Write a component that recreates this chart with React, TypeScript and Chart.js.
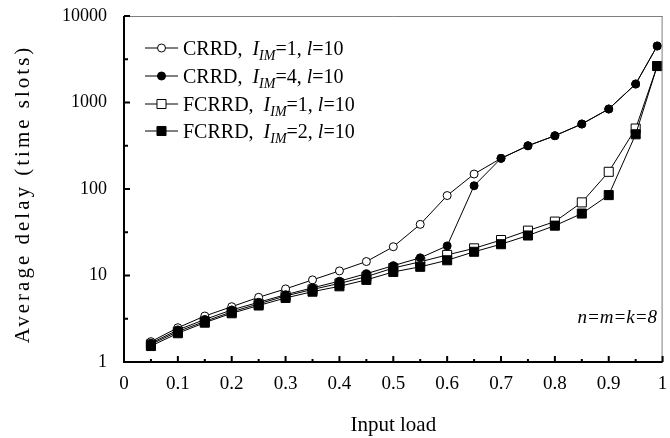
import React, { useEffect, useRef } from 'react';
import { Chart, registerables } from 'chart.js';

Chart.register(...registerables);

const loads = [0.05, 0.1, 0.15, 0.2, 0.25, 0.3, 0.35, 0.4, 0.45, 0.5, 0.55, 0.6, 0.65, 0.7, 0.75, 0.8, 0.85, 0.9, 0.95, 0.99];
const crrdIm1 = [1.72, 2.49, 3.4, 4.36, 5.6, 7.0, 8.9, 11.3, 14.5, 21.5, 39, 84, 149, 226, 316, 413, 564, 841, 1636, 4500];
const crrdIm4 = [1.65, 2.35, 3.1, 4.0, 4.9, 6.0, 7.2, 8.6, 10.5, 13, 16, 22, 109, 226, 316, 413, 564, 841, 1636, 4500];
const fcrrdIm1 = [1.6, 2.25, 2.95, 3.8, 4.7, 5.8, 6.9, 8.1, 9.7, 12.2, 14.4, 17.3, 20.6, 25.7, 33, 42, 70, 158, 500, 2640];
const fcrrdIm2 = [1.53, 2.15, 2.85, 3.66, 4.5, 5.5, 6.5, 7.5, 8.9, 11, 12.6, 15, 18.8, 23, 29, 37.7, 52, 85, 429, 2640];

const seriesNames = ['CRRD,', 'CRRD,', 'FCRRD,', 'FCRRD,'];
const seriesIm = ['1', '4', '1', '2'];
const seriesL = ['10', '10', '10', '10'];
const yTicks = [1, 10, 100, 1000, 10000];
const xTicks = [0, 0.1, 0.2, 0.3, 0.4, 0.5, 0.6, 0.7, 0.8, 0.9, 1];

const xTitle = 'Input load';
const yTitle = 'Average delay (time slots)';
const note = 'n=m=k=8';

const SERIF = '"Liberation Serif", "DejaVu Serif", serif';

const styles = [
  { pointStyle: 'circle', fill: '#fff', radius: 4 },
  { pointStyle: 'circle', fill: '#000', radius: 4 },
  { pointStyle: 'rect', fill: '#fff', radius: 6.4 },
  { pointStyle: 'rect', fill: '#000', radius: 6.4 },
];

function drawMarker(ctx: CanvasRenderingContext2D, idx: number, x: number, y: number) {
  const s = styles[idx];
  ctx.save();
  ctx.lineWidth = 1;
  ctx.strokeStyle = '#000';
  ctx.fillStyle = s.fill;
  ctx.beginPath();
  if (s.pointStyle === 'circle') {
    ctx.arc(x, y, s.radius, 0, Math.PI * 2);
  } else {
    const h = s.radius * Math.SQRT1_2;
    ctx.rect(x - h, y - h, 2 * h, 2 * h);
  }
  ctx.fill();
  ctx.stroke();
  ctx.restore();
}

const decorPlugin = {
  id: 'decor',
  afterDraw(chart: any) {
    const { ctx, chartArea } = chart;
    const { left, right, top, bottom } = chartArea;
    const xs = chart.scales.x;
    const ys = chart.scales.y;
    ctx.save();
    // top & right border (grey, thin)
    ctx.strokeStyle = '#7f7f7f';
    ctx.lineWidth = 1;
    ctx.beginPath();
    ctx.moveTo(left, top + 0.5);
    ctx.lineTo(right, top + 0.5);
    ctx.moveTo(right - 0.5, top);
    ctx.lineTo(right - 0.5, bottom);
    ctx.stroke();
    // left & bottom axis (black, thick)
    ctx.strokeStyle = '#000';
    ctx.lineWidth = 2;
    ctx.beginPath();
    ctx.moveTo(left, top);
    ctx.lineTo(left, bottom);
    ctx.lineTo(right, bottom);
    ctx.stroke();
    // y ticks (inward)
    ctx.beginPath();
    for (let k = 0; k < yTicks.length; k++) {
      const py = ys.getPixelForValue(yTicks[k]);
      ctx.moveTo(left, py);
      ctx.lineTo(left + 6, py);
      if (k < yTicks.length - 1) {
        const pm = ys.getPixelForValue(yTicks[k] * Math.sqrt(10));
        ctx.moveTo(left, pm);
        ctx.lineTo(left + 4, pm);
      }
    }
    // x ticks (inward)
    for (let i = 0; i < xTicks.length; i++) {
      const px = xs.getPixelForValue(xTicks[i]);
      ctx.moveTo(px, bottom);
      ctx.lineTo(px, bottom - 6);
      if (i < xTicks.length - 1) {
        const pm = xs.getPixelForValue((xTicks[i] + xTicks[i + 1]) / 2);
        ctx.moveTo(pm, bottom);
        ctx.lineTo(pm, bottom - 3);
      }
    }
    ctx.stroke();

    // axis titles
    ctx.fillStyle = '#000';
    ctx.font = `21px ${SERIF}`;
    ctx.textAlign = 'center';
    ctx.textBaseline = 'middle';
    ctx.fillText(xTitle, (left + right) / 2, 425);
    ctx.save();
    ctx.translate(23, 194);
    ctx.rotate(-Math.PI / 2);
    (ctx as any).letterSpacing = '3px';
    ctx.fillText(yTitle, 0, 0);
    ctx.restore();

    // note
    ctx.font = `italic 19px ${SERIF}`;
    ctx.textAlign = 'right';
    ctx.fillText(note, 657, 318);

    // legend
    const rowY = [48, 76, 104, 131];
    for (let i = 0; i < 4; i++) {
      const y = rowY[i];
      ctx.strokeStyle = '#000';
      ctx.lineWidth = 1;
      ctx.beginPath();
      ctx.moveTo(145, y);
      ctx.lineTo(178, y);
      ctx.stroke();
      drawMarker(ctx, i, 161.5, y);
      let x = 183;
      ctx.textAlign = 'left';
      ctx.textBaseline = 'middle';
      const parts: [string, string, number][] = [
        [seriesNames[i] + '  ', `20px ${SERIF}`, 0],
        ['I', `italic 20px ${SERIF}`, 0],
        ['IM', `italic 14px ${SERIF}`, 6],
        ['=' + seriesIm[i] + ', ', `20px ${SERIF}`, 0],
        ['l', `italic 20px ${SERIF}`, 0],
        ['=' + seriesL[i], `20px ${SERIF}`, 0],
      ];
      for (const [t, f, dy] of parts) {
        ctx.font = f;
        ctx.fillText(t, x, y + 2 + dy);
        x += ctx.measureText(t).width;
      }
    }
    ctx.restore();
  },
};

export default function App() {
  const ref = useRef<HTMLCanvasElement | null>(null);
  useEffect(() => {
    if (!ref.current) return;
    const all = [crrdIm1, crrdIm4, fcrrdIm1, fcrrdIm2];
    const datasets = all.map((vals, i) => ({
      label: seriesNames[i] + ' IM=' + seriesIm[i],
      data: loads.map((x, j) => ({ x, y: vals[j] })),
      borderColor: '#000',
      borderWidth: 1,
      backgroundColor: styles[i].fill,
      pointBackgroundColor: styles[i].fill,
      pointBorderColor: '#000',
      pointBorderWidth: 1,
      pointStyle: styles[i].pointStyle,
      pointRadius: styles[i].radius,
      tension: 0,
      fill: false,
      order: i === 1 || i === 3 ? 0 : 1,
    }));
    const chart = new Chart(ref.current, {
      type: 'line',
      data: { datasets },
      plugins: [decorPlugin],
      options: {
        animation: false,
        responsive: true,
        maintainAspectRatio: false,
        layout: { padding: { top: 16, right: 2, left: 0, bottom: 0 } },
        plugins: { legend: { display: false }, tooltip: { enabled: false } },
        scales: {
          x: {
            type: 'linear',
            min: 0,
            max: 1,
            grid: { display: false },
            border: { display: false },
            afterBuildTicks: (s: any) => {
              s.ticks = xTicks.map((v) => ({ value: v }));
            },
            afterFit: (s: any) => {
              s.height = 76;
              s.paddingLeft = 0;
              s.paddingRight = 0;
            },
            ticks: {
              color: '#000',
              padding: 3,
              maxRotation: 0,
              autoSkip: false,
              font: { family: SERIF, size: 19 },
              callback: (v: any) => (v === 0 ? '0' : v === 1 ? '1' : Number(v).toFixed(1)),
            },
          },
          y: {
            type: 'logarithmic',
            min: 1,
            max: 10000,
            grid: { display: false },
            border: { display: false },
            afterBuildTicks: (s: any) => {
              s.ticks = yTicks.map((v) => ({ value: v }));
            },
            afterFit: (s: any) => {
              s.width = 124;
              s.paddingTop = 0;
              s.paddingBottom = 0;
            },
            ticks: {
              color: '#000',
              padding: 9,
              autoSkip: false,
              font: { family: SERIF, size: 18 },
              callback: (v: any) => String(v),
            },
          },
        },
      },
    } as any);
    return () => chart.destroy();
  }, []);
  return (
    <div style={{ position: 'fixed', left: 0, top: 0, width: 670, height: 438, background: '#fff' }}>
      <canvas ref={ref} />
    </div>
  );
}
